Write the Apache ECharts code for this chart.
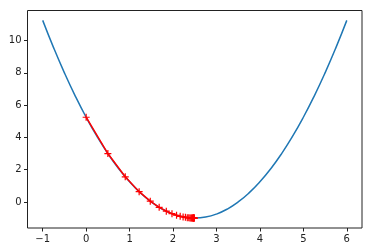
<!DOCTYPE html>
<html><head><meta charset="utf-8">
<script src="https://cdn.jsdelivr.net/npm/echarts@6/dist/echarts.min.js"></script>
<style>html,body{margin:0;padding:0;background:#fff}#c{width:372px;height:252px}</style>
</head><body><div id="c"></div>
<script>
const curveX = [-1,-0.75,-0.5,-0.25,0,0.25,0.5,0.75,1,1.25,1.5,1.75,2,2.25,2.5,2.75,3,3.25,3.5,3.75,4,4.25,4.5,4.75,5,5.25,5.5,5.75,6];
const curveY = [11.25,9.5625,8,6.5625,5.25,4.0625,3,2.0625,1.25,0.5625,0,-0.4375,-0.75,-0.9375,-1,-0.9375,-0.75,-0.4375,0,0.5625,1.25,2.0625,3,4.0625,5.25,6.5625,8,9.5625,11.25];
const stepX = [0,0.5,0.9,1.22,1.476,1.681,1.845,1.976,2.081,2.165,2.232,2.285,2.328,2.363,2.390,2.412,2.430,2.444,2.455,2.464,2.471,2.477,2.482,2.485,2.488];
const stepY = [5.25,3.0,1.56,0.638,0.049,-0.329,-0.571,-0.725,-0.824,-0.887,-0.928,-0.954,-0.971,-0.981,-0.988,-0.992,-0.995,-0.997,-0.998,-0.9987,-0.9992,-0.9995,-0.9997,-0.9998,-0.9999];
const xTicks = [-1,0,1,2,3,4,5,6];
const yTicks = [0,2,4,6,8,10];

const fmt = v => String(v).replace('-', '\u2212');
const font = {fontFamily:'DejaVu Sans', fontSize:10, color:'#222'};
const chart = echarts.init(document.getElementById('c'), null, {renderer:'canvas'});
chart.setOption({
  animation:false,
  backgroundColor:'#fff',
  grid:{left:27.5, right:10, top:10.5, bottom:24, show:true, borderColor:'#222', borderWidth:1, containLabel:false},
  xAxis:{type:'value', min:-1.35, max:6.35, position:'bottom',
    axisLine:{show:false, onZero:false}, splitLine:{show:false},
    axisTick:{show:true, length:3.5, inside:false, customValues:xTicks, lineStyle:{color:'#222', width:1}},
    axisLabel:Object.assign({margin:6, customValues:xTicks, formatter:fmt}, font)},
  yAxis:{type:'value', min:-1.6125, max:11.8625, position:'left',
    axisLine:{show:false, onZero:false}, splitLine:{show:false},
    axisTick:{show:true, length:3.5, inside:false, customValues:yTicks, lineStyle:{color:'#222', width:1}},
    axisLabel:Object.assign({margin:6, customValues:yTicks, formatter:fmt}, font)},
  series:[
    {type:'line', data:curveX.map((x,i)=>[x,curveY[i]]), smooth:true, showSymbol:false,
     lineStyle:{color:'#1f77b4', width:1.5}, z:2},
    {type:'line', data:stepX.map((x,i)=>[x,stepY[i]]), smooth:false,
     symbol:'path://M0,5L10,5M5,0L5,10', symbolSize:7, showSymbol:true,
     itemStyle:{color:'rgba(0,0,0,0)', borderColor:'#ff0000', borderWidth:1.2},
     lineStyle:{color:'#ff0000', width:1.5}, z:3}
  ]
});
</script></body></html>
